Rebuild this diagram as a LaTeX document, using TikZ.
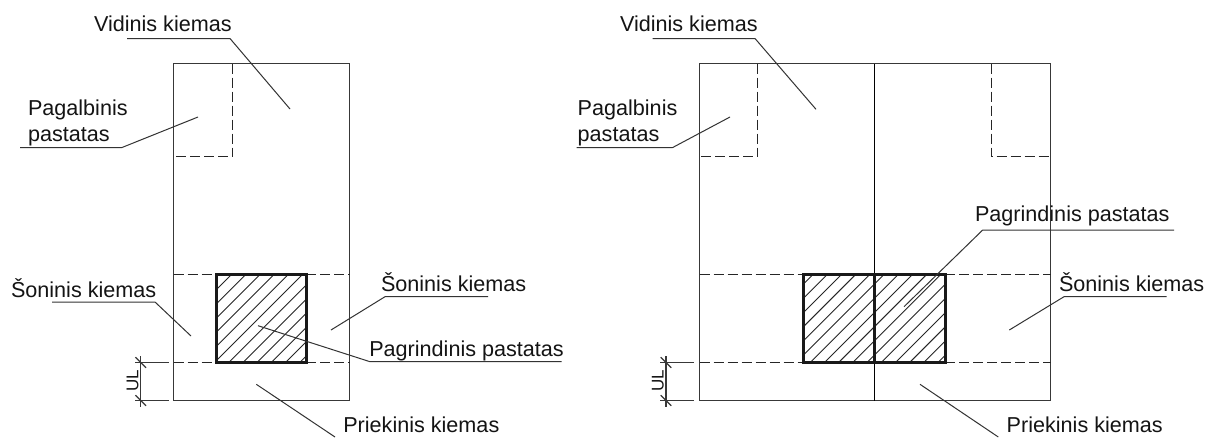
\documentclass[tikz,border=0pt]{standalone}
\usepackage{fontspec}
\setmainfont{Liberation Sans}
\begin{document}
\begin{tikzpicture}[x=1pt,y=-1pt,
  thinline/.style={line width=1.2pt,draw=black!78},
  leader/.style={line width=1pt,draw=black!80,line join=round},
  dashline/.style={line width=1.3pt,draw=black!85,dash pattern=on 10pt off 4pt},
  hatchline/.style={line width=0.9pt,draw=black!85},
  heavy/.style={line width=3pt,draw=black!90},
  label/.style={anchor=base west,inner sep=0pt,outer sep=0pt,font=\fontsize{21.6}{24}\selectfont,text=black!92},
  ullabel/.style={anchor=base,rotate=90,inner sep=0pt,font=\fontsize{17}{20}\selectfont,text=black!92}]
\useasboundingbox (0,0) rectangle (1207,437);
\fill[white] (0,0) rectangle (1207,437);
% hatching
\begin{scope}
  \clip (216.5,274) rectangle (306,362.5);
  \foreach \k in {-2,...,12} {
    \pgfmathsetmacro{\c}{506+14.2*\k}
    \draw[hatchline] (\c-362.5,362.5) -- (\c-274,274);
  }
\end{scope}
\begin{scope}
  \clip (803.3,274) rectangle (945,362.5);
  \foreach \k in {-2,...,16} {
    \pgfmathsetmacro{\c}{1101.7+14.2*\k}
    \draw[hatchline] (\c-362.5,362.5) -- (\c-274,274);
  }
\end{scope}
% LEFT plot
\draw[thinline] (173.5,63.5) rectangle (349.5,400.5);
\draw[dashline] (232.5,63.5) -- (232.5,156.5) -- (173.5,156.5);
\draw[dashline] (173.5,274.5) -- (216.5,274.5);
\draw[dashline] (306,274.5) -- (349.5,274.5);
\draw[dashline] (173.5,362.5) -- (216.5,362.5);
\draw[dashline] (306,362.5) -- (349.5,362.5);
\draw[heavy] (216.5,274.5) rectangle (306,362.5);
% RIGHT plot
\draw[thinline] (699.5,63.5) rectangle (1050.5,400.5);
\draw[thinline,draw=black] (874.5,63.5) -- (874.5,400.5);
\draw[dashline] (757.5,63.5) -- (757.5,156.5) -- (699.5,156.5);
\draw[dashline] (991.5,63.5) -- (991.5,156.5) -- (1050.5,156.5);
\draw[dashline] (699.5,274.5) -- (803.3,274.5);
\draw[dashline] (945,274.5) -- (1050.5,274.5);
\draw[dashline] (699.5,362.5) -- (803.3,362.5);
\draw[dashline] (945,362.5) -- (1050.5,362.5);
\draw[heavy] (803.3,274.5) rectangle (945,362.5);
\draw[heavy] (874.5,274.5) -- (874.5,362.5);
% labels left
\node[label] (lvid) at (94,31) {Vidinis kiemas};
\node[label] (lpag) at (28,115) {Pagalbinis};
\node[label] (lpas) at (28,141.7) {pastatas};
\node[label] (lsonl) at (11,297.7) {Šoninis kiemas};
\node[label] (lsonr) at (381,291.7) {Šoninis kiemas};
\node[label] (lpagr) at (369.3,356.7) {Pagrindinis pastatas};
\node[label] (lpri) at (343.3,432.7) {Priekinis kiemas};
\node[ullabel] (lul) at (138.3,381) {UL};
% labels right
\node[label] (rvid) at (620,31) {Vidinis kiemas};
\node[label] (rpag) at (577.7,115) {Pagalbinis};
\node[label] (rpas) at (577.7,141.7) {pastatas};
\node[label] (rpagr) at (975,221.7) {Pagrindinis pastatas};
\node[label] (rson) at (1059,291.7) {Šoninis kiemas};
\node[label] (rpri) at (1006.7,432.7) {Priekinis kiemas};
\node[ullabel] (rul) at (663.6,381) {UL};
% leaders left
\coordinate (a1) at (127,38.5); \coordinate (a2) at (230,38.5); \coordinate (a3) at (290,109);
\coordinate (b1) at (20,147.5); \coordinate (b2) at (122,147.5); \coordinate (b3) at (198,117);
\coordinate (c1) at (52,302); \coordinate (c2) at (155,302); \coordinate (c3) at (191,336);
\coordinate (d1) at (488,296.7); \coordinate (d2) at (385,296.7); \coordinate (d3) at (331,330);
\coordinate (e1) at (561.7,361.7); \coordinate (e2) at (370,361.7); \coordinate (e3) at (258,325.7);
\coordinate (f1) at (256.3,384.3); \coordinate (f2) at (335,437);
\draw[leader] (a1) -- (a2) -- (a3);
\draw[leader] (b1) -- (b2) -- (b3);
\draw[leader] (c1) -- (c2) -- (c3);
\draw[leader] (d1) -- (d2) -- (d3);
\draw[leader] (e1) -- (e2) -- (e3);
\draw[leader] (f1) -- (f2);
% leaders right
\coordinate (g1) at (652.7,38.5); \coordinate (g2) at (755,38.5); \coordinate (g3) at (816,109.3);
\coordinate (h1) at (576.7,147.5); \coordinate (h2) at (672.7,147.5); \coordinate (h3) at (730,117);
\coordinate (i1) at (1174,230); \coordinate (i2) at (982.7,230); \coordinate (i3) at (904,306.7);
\coordinate (j1) at (1166.7,296.7); \coordinate (j2) at (1064,296.7); \coordinate (j3) at (1009.3,330);
\coordinate (k1) at (920,384.3); \coordinate (k2) at (998.3,437);
\draw[leader] (g1) -- (g2) -- (g3);
\draw[leader] (h1) -- (h2) -- (h3);
\draw[leader] (i1) -- (i2) -- (i3);
\draw[leader] (j1) -- (j2) -- (j3);
\draw[leader] (k1) -- (k2);
% dimensions left
\coordinate (m1) at (140.7,356); \coordinate (m2) at (140.7,406.7);
\draw[thinline] (m1) -- (m2);
\draw[thinline] (135,362.5) -- (168.7,362.5);
\draw[thinline] (135,400.5) -- (168.7,400.5);
\draw[thinline] (135.4,357.2) -- (146,367.8);
\draw[thinline] (135.4,395.2) -- (146,405.8);
% dimensions right
\coordinate (n1) at (666,356); \coordinate (n2) at (666,406.7);
\draw[thinline] (n1) -- (n2);
\draw[thinline] (660.3,362.5) -- (694.3,362.5);
\draw[thinline] (660.3,400.5) -- (694.3,400.5);
\draw[thinline] (660.7,357.2) -- (671.3,367.8);
\draw[thinline] (660.7,395.2) -- (671.3,405.8);
\end{tikzpicture}
\end{document}
